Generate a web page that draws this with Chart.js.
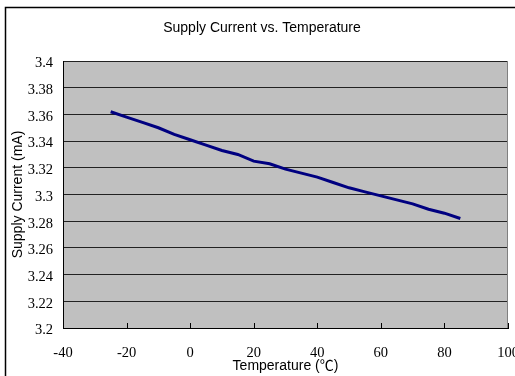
<!DOCTYPE html>
<html>
<head>
<meta charset="utf-8">
<script src="https://cdn.jsdelivr.net/npm/chart.js@4.4.0/dist/chart.umd.min.js"></script>
<style>
  html, body { margin: 0; padding: 0; background: #fff; }
  canvas { display: block; }
</style>
</head>
<body>
<canvas id="chart" width="515" height="376"></canvas>
<script>
// Measured supply current over the temperature range
const temperatures = [-25, -20, -15, -10, -5, 0, 5, 10, 15, 20, 25, 30, 35, 40, 45, 50, 55, 60, 65, 70, 75, 80, 85];
const supplyCurrent = [3.362, 3.358, 3.354, 3.350, 3.345, 3.341, 3.337, 3.333, 3.330, 3.325, 3.323, 3.319, 3.316,
                       3.313, 3.309, 3.305, 3.302, 3.299, 3.296, 3.293, 3.289, 3.286, 3.282];

// Axis ticks
const xTickValues = [-40, -20, 0, 20, 40, 60, 80, 100];
const yTickValues = [3.2, 3.22, 3.24, 3.26, 3.28, 3.3, 3.32, 3.34, 3.36, 3.38, 3.4];
const yTickLabels = ['3.2', '3.22', '3.24', '3.26', '3.28', '3.3', '3.32', '3.34', '3.36', '3.38', '3.4'];

const tickFont = { family: "'Liberation Serif', 'Times New Roman', serif", size: 14.5 };
const textFont = "'Liberation Sans', Arial, 'Noto Sans CJK SC', sans-serif";

// Outer frame, grey plot background, plot edge and inward x tick marks
const chartFrame = {
  id: 'chartFrame',
  beforeDraw(chart) {
    const { ctx, chartArea: a } = chart;
    ctx.save();
    ctx.fillStyle = '#ffffff';
    ctx.fillRect(0, 0, chart.width, chart.height);
    ctx.strokeStyle = '#000000';
    ctx.lineWidth = 1.5;
    ctx.strokeRect(5.5, 7.5, chart.width + 20, chart.height + 20);
    ctx.fillStyle = '#c0c0c0';
    ctx.fillRect(a.left, a.top, a.right - a.left, a.bottom - a.top);
    ctx.restore();
  },
  beforeDatasetsDraw(chart) {
    const { ctx, chartArea: a, scales: { x } } = chart;
    ctx.save();
    ctx.strokeStyle = '#808080';
    ctx.lineWidth = 1;
    ctx.beginPath();
    ctx.moveTo(Math.round(a.right) - 0.5, a.top);
    ctx.lineTo(Math.round(a.right) - 0.5, a.bottom);
    ctx.stroke();
    ctx.strokeStyle = '#000000';
    ctx.beginPath();
    x.ticks.forEach(t => {
      const px = Math.round(x.getPixelForValue(t.value)) + 0.5;
      ctx.moveTo(px, a.bottom);
      ctx.lineTo(px, a.bottom - 5);
    });
    ctx.stroke();
    ctx.restore();
  }
};

new Chart(document.getElementById('chart'), {
  type: 'line',
  data: {
    datasets: [{
      data: temperatures.map((t, i) => ({ x: t, y: supplyCurrent[i] })),
      borderColor: '#000080',
      borderWidth: 3,
      pointRadius: 0,
      tension: 0,
      fill: false
    }]
  },
  options: {
    responsive: false,
    animation: false,
    devicePixelRatio: 1,
    layout: { padding: { left: 9, right: 0, top: 0, bottom: 0 } },
    plugins: {
      legend: { display: false },
      tooltip: { enabled: false },
      title: {
        display: true,
        text: 'Supply Current vs. Temperature',
        color: '#000000',
        font: { family: textFont, size: 14, weight: 'normal' },
        padding: { top: 20, bottom: 24.2 }
      }
    },
    scales: {
      x: {
        type: 'linear',
        min: -40,
        max: 100,
        afterBuildTicks: s => { s.ticks = xTickValues.map(v => ({ value: v })); },
        afterFit: s => { s.height = 48; s.paddingLeft = 0; s.paddingRight = 7; },
        grid: { drawOnChartArea: false, drawTicks: false },
        border: { display: true, color: '#000000', width: 1 },
        ticks: { font: tickFont, color: '#000000', padding: 16, maxRotation: 0, autoSkip: false },
        title: {
          display: true,
          text: 'Temperature (℃)',
          color: '#000000',
          font: { family: textFont, size: 14 },
          padding: { top: 0, bottom: 1 }
        }
      },
      y: {
        type: 'linear',
        min: 3.2,
        max: 3.4,
        afterBuildTicks: s => { s.ticks = yTickValues.map(v => ({ value: v })); },
        afterFit: s => { s.width = 54; },
        grid: { color: '#222222', lineWidth: 1, drawTicks: false },
        border: { display: true, color: '#000000', width: 1 },
        ticks: {
          font: tickFont,
          color: '#000000',
          padding: 10,
          labelOffset: 2.5,
          autoSkip: false,
          callback: (v, i) => yTickLabels[i]
        },
        title: {
          display: true,
          text: 'Supply Current (mA)',
          color: '#000000',
          font: { family: textFont, size: 14 },
          padding: { top: 0.5, bottom: 0 }
        }
      }
    }
  },
  plugins: [chartFrame]
});
</script>
</body>
</html>
